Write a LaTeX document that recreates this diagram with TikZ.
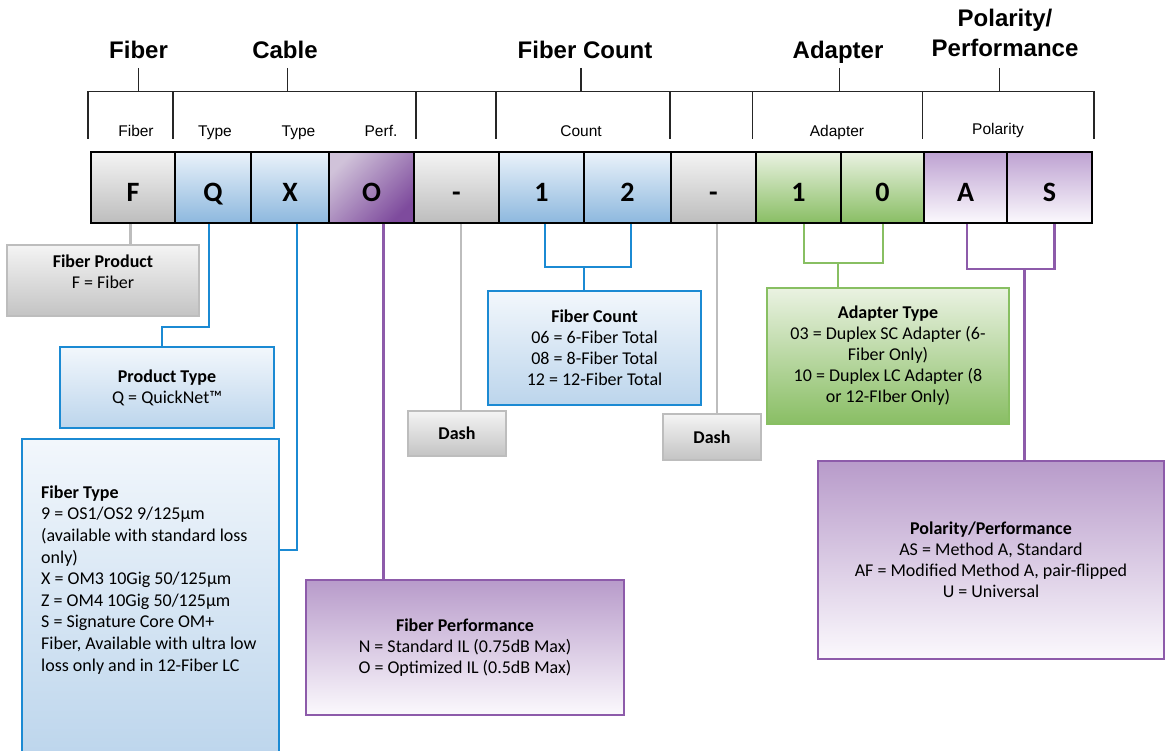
\documentclass[tikz,border=0pt]{standalone}
\usepackage{fontspec}
\setmainfont{Carlito}
\newfontfamily\headfont{Liberation Sans}
\usetikzlibrary{positioning}

\definecolor{linkgray}{HTML}{BDBDBD}
\definecolor{linkblue}{HTML}{1B8AD3}
\definecolor{linkpurple}{HTML}{8D5BAA}
\definecolor{linkgreen}{HTML}{88BF62}
\definecolor{graylight}{HTML}{F4F4F4}
\definecolor{graydark}{HTML}{BDBDBD}
\definecolor{bluelight}{HTML}{EAF2FA}
\definecolor{bluedark}{HTML}{8DB8DE}
\definecolor{greenlight}{HTML}{EAF2E2}
\definecolor{greendark}{HTML}{89BE64}
\definecolor{purplelight}{HTML}{D0C2D9}
\definecolor{purpledark}{HTML}{7E4B9D}
\definecolor{lilac}{HTML}{BEA2D2}
\definecolor{lilacwhite}{HTML}{FBF9FD}
\definecolor{descblue}{HTML}{BCD5EC}
\definecolor{descpurple}{HTML}{B89BCA}

\begin{document}
\begin{tikzpicture}
	[x=1pt, y=-1pt,
	code/.style = {draw=black, line width=2pt, minimum height=71pt, inner sep=0pt,
		text height=29pt, text depth=0pt, font=\fontsize{28}{30}\selectfont\bfseries},
	graycode/.style = {code, top color=graylight, bottom color=graydark},
	bluecode/.style = {code, top color=bluelight, bottom color=bluedark},
	perfcode/.style = {code, top color=purplelight, bottom color=purpledark, shading angle=45},
	greencode/.style = {code, top color=greenlight, bottom color=greendark},
	lilaccode/.style = {code, top color=lilac, bottom color=lilacwhite},
	head/.style = {anchor=base, font=\headfont\fontsize{24}{30}\selectfont\bfseries},
	sub/.style = {anchor=base, font=\headfont\fontsize{15.5}{18}\selectfont},
	bracket/.style = {line width=1.3pt, draw=black!85},
	desc/.style = {line width=2.4pt, inner sep=0pt, align=center, font=\fontsize{18}{21}\selectfont},
	graydesc/.style = {desc, draw=linkgray, line width=2pt, top color=graylight, bottom color=graydark!90},
	bluedesc/.style = {desc, draw=linkblue, top color=bluelight!60, bottom color=descblue},
	purpledesc/.style = {desc, draw=linkpurple, top color=descpurple, bottom color=lilacwhite},
	greendesc/.style = {desc, draw=linkgreen, top color=greenlight, bottom color=greendark},
	link/.style = {line width=2.4pt},
	graylink/.style = {link, draw=linkgray},
	bluelink/.style = {link, draw=linkblue},
	purplelink/.style = {link, draw=linkpurple},
	greenlink/.style = {link, draw=linkgreen, line width=2pt}]
	\clip (0,0) rectangle (1166,751);

	% headings and brackets
	\node[head] (hfiber) at (138.5,58.5) {Fiber};
	\node[head] (hcable) at (285,58.5) {Cable};
	\node[head] (hcount) at (585,58.5) {Fiber Count};
	\node[head] (hadapt) at (838,58.5) {Adapter};
	\node[head, align=center] (hpolar) at (1005,57) {Polarity/\\Performance};
	\draw[bracket] (88,139) -- (88,91.5) -- (1094,91.5) -- (1094,139);
	\foreach \x in {173,416,496,670,752.5,922.5}
		\draw[bracket] (\x,91.5) -- (\x,139);
	\foreach \x in {138.5,287.5,581,839.5,999.5}
		\draw[bracket] (\x,68) -- (\x,91.5);
	\node[sub] (sfiber) at (136,136.5) {Fiber};
	\node[sub] (stype) at (215,136.5) {Type};
	\node[sub] (stype2) at (298.5,136.5) {Type};
	\node[sub] (sperf) at (381,136.5) {Perf.};
	\node[sub] (scount) at (581,136.5) {Count};
	\node[sub] (sadapt) at (837,136.5) {Adapter};
	\node[sub] (spolar) at (998,135) {Polarity};

	% part number
	\node[graycode, minimum width=84pt] (cF) at (133,187.5) {F};
	\node[bluecode, minimum width=76pt] (cQ) at (213,187.5) {Q};
	\node[bluecode, minimum width=78pt] (cX) at (290,187.5) {X};
	\node[perfcode, minimum width=85pt] (cO) at (371.5,187.5) {O};
	\node[graycode, minimum width=85pt] (cD1) at (456.5,187.5) {-};
	\node[bluecode, minimum width=85pt] (cC1) at (541.5,187.5) {1};
	\node[bluecode, minimum width=87pt] (cC2) at (627.5,187.5) {2};
	\node[graycode, minimum width=85pt] (cD2) at (713.5,187.5) {-};
	\node[greencode, minimum width=85pt] (cA1) at (798.5,187.5) {1};
	\node[greencode, minimum width=83pt] (cA2) at (882.5,187.5) {0};
	\node[lilaccode, minimum width=83pt] (cP1) at (965.5,187.5) {A};
	\node[lilaccode, minimum width=85pt] (cP2) at (1049.5,187.5) {S};

	% descriptions
	\node[graydesc, minimum width=192pt, minimum height=71pt] (fprod) at (103,280.5) {};
	\node[align=center, font=\fontsize{18}{21}\selectfont] (fprodtxt) at (103,271.5)
		{\textbf{Fiber Product}\\F = Fiber};
	\node[bluedesc, minimum width=214pt, minimum height=81pt] (ptype) at (167,387.5)
		{\textbf{Product Type}\\Q = QuickNet™};
	\node[bluedesc, minimum width=257pt, minimum height=322pt] (ftype) at (150.5,600) {};
	\node[anchor=north west, inner sep=0pt, align=left, font=\fontsize{18}{21.6}\selectfont]
		(ftypetxt) at (41,485.5) {\textbf{Fiber Type}\\
		9 = OS1/OS2 9/125µm\\
		(available with standard loss\\
		only)\\
		X = OM3 10Gig 50/125µm\\
		Z = OM4 10Gig 50/125µm\\
		S = Signature Core OM+\\
		Fiber, Available with ultra low\\
		loss only and in 12-Fiber LC};
	\node[purpledesc, minimum width=318pt, minimum height=135pt] (fperf) at (465,647.5)
		{\textbf{Fiber Performance}\\N = Standard IL (0.75dB Max)\\O = Optimized IL (0.5dB Max)};
	\node[graydesc, minimum width=98pt, minimum height=45pt] (dash1) at (457,433.5) {\textbf{Dash}};
	\node[bluedesc, minimum width=213pt, minimum height=114pt] (fcount) at (594.5,348)
		{\textbf{Fiber Count}\\06 = 6-Fiber Total\\08 = 8-Fiber Total\\12 = 12-Fiber Total};
	\node[graydesc, minimum width=98pt, minimum height=46pt] (dash2) at (712,437) {\textbf{Dash}};
	\node[greendesc, minimum width=241.5pt, minimum height=136pt] (adapt) at (888,356)
		{\textbf{Adapter Type}\\03 = Duplex SC Adapter (6-\\Fiber Only)\\10 = Duplex LC Adapter (8\\or 12-FIber Only)};
	\node[purpledesc, minimum width=346pt, minimum height=198pt] (polar) at (991,560)
		{\textbf{Polarity/Performance}\\AS = Method A, Standard\\AF = Modified Method A, pair-flipped\\U = Universal};

	% connectors
	\draw[graylink] ([xshift=-2.5]cF.south) -- ([xshift=-2.5]cF.south |- fprod.north);
	\draw[bluelink] ([xshift=-4]cQ.south) -- ++(0,103) -| ([xshift=-5]ptype.north);
	\draw[bluelink] ([xshift=7]cX.south) |- ([yshift=50]ftype.east);
	\draw[purplelink] ([xshift=12]cO.south) -- ([xshift=12]cO.south |- fperf.north);
	\draw[graylink] ([xshift=4.5]cD1.south) -- ([xshift=4.5]cD1.south |- dash1.north);
	\coordinate (cntbar) at (584,267);
	\draw[bluelink] ([xshift=3.5]cC1.south) |- (cntbar) -| ([xshift=3.5]cC2.south);
	\draw[bluelink] (cntbar) -- (cntbar |- fcount.north);
	\draw[graylink] ([xshift=3.5]cD2.south) -- ([xshift=3.5]cD2.south |- dash2.north);
	\coordinate (adbar) at (838,263);
	\draw[greenlink] ([xshift=5]cA1.south) |- (adbar) -| ([xshift=0.5]cA2.south);
	\draw[greenlink] (adbar) -- (adbar |- adapt.north);
	\coordinate (polbar) at (1024.5,269);
	\draw[purplelink] ([xshift=1.5]cP1.south) |- (polbar) -| ([xshift=5]cP2.south);
	\draw[purplelink] (polbar) -- (polbar |- polar.north);
\end{tikzpicture}
\end{document}
